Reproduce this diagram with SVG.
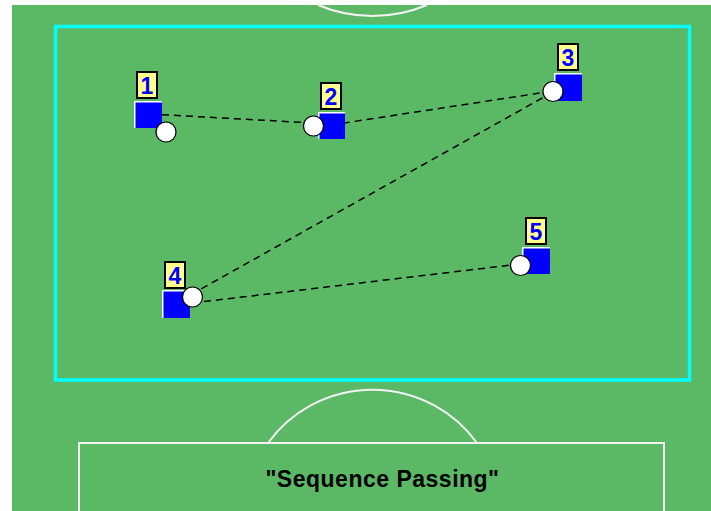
<svg xmlns="http://www.w3.org/2000/svg" width="711" height="511" viewBox="0 0 711 511">
<style>
.field{fill:#5bb966}
.line{fill:none;stroke:#f2f2f2;stroke-width:2}
.area{fill:none;stroke:#00ffff;stroke-width:3.5}
.pass{fill:none;stroke:#000;stroke-width:1.5;stroke-dasharray:7 5}
.sq{fill:#0000ff}
.hl{fill:none;stroke:#ffffff;stroke-width:1.5}
.lbl{fill:#ffff8c;stroke:#000;stroke-width:2}
.num{font-family:"Liberation Sans",Arial,sans-serif;font-weight:bold;font-size:23px;fill:#0000ff;text-anchor:middle}
.ball{fill:#fff;stroke:#000;stroke-width:1.2}
.title{font-family:"Liberation Sans",Arial,sans-serif;font-weight:bold;font-size:23px;fill:#000;text-anchor:middle;letter-spacing:0.5px}
</style>
<rect width="711" height="511" fill="#fff"/>
<rect class="field" x="12" y="5" width="699" height="506"/>
<g id="markings">
<path class="line" d="M318,5 A140.5,140.5 0 0 0 427,5"/>
<rect class="area" x="55.5" y="26.5" width="634" height="353.5"/>
<path class="line" d="M268,443 A129,129 0 0 1 477,443"/>
<path class="line" d="M79,511 V443 H664 V511"/>
<text class="title" x="382.5" y="487">"Sequence Passing"</text>
</g>
<g id="connectors">
<line class="pass" x1="150" y1="114" x2="313" y2="123"/>
<line class="pass" x1="331" y1="125" x2="553" y2="91"/>
<line class="pass" x1="553" y1="92" x2="192" y2="294"/>
<line class="pass" x1="192" y1="303" x2="520" y2="264"/>
</g>
<g id="player1" transform="translate(134,101)">
<rect class="lbl" x="3" y="-29" width="20" height="26"/>
<text class="num" x="13" y="-7">1</text>
<rect class="sq" x="0" y="0" width="28" height="27"/>
<polyline class="hl" points="0.75,27 0.75,0.75 28,0.75"/>
<circle class="ball" cx="32" cy="31" r="10"/>
</g>
<g id="player2" transform="translate(318,112)">
<rect class="lbl" x="3" y="-29" width="20" height="26"/>
<text class="num" x="13" y="-7">2</text>
<rect class="sq" x="0" y="0" width="27" height="27"/>
<polyline class="hl" points="0.75,27 0.75,0.75 27,0.75"/>
<circle class="ball" cx="-4.5" cy="14" r="10"/>
</g>
<g id="player3" transform="translate(554,73)">
<rect class="lbl" x="4" y="-29" width="20" height="26"/>
<text class="num" x="14" y="-7">3</text>
<rect class="sq" x="0" y="0" width="28" height="28"/>
<polyline class="hl" points="0.75,28 0.75,0.75 28,0.75"/>
<circle class="ball" cx="-1" cy="18.5" r="10"/>
</g>
<g id="player4" transform="translate(162,290)">
<rect class="lbl" x="3" y="-28" width="20" height="26"/>
<text class="num" x="13" y="-6">4</text>
<rect class="sq" x="0" y="0" width="28" height="28"/>
<polyline class="hl" points="0.75,28 0.75,0.75 28,0.75"/>
<circle class="ball" cx="30.5" cy="7" r="10"/>
</g>
<g id="player5" transform="translate(522,247)">
<rect class="lbl" x="4" y="-29" width="20" height="26"/>
<text class="num" x="14" y="-7">5</text>
<rect class="sq" x="0" y="0" width="28" height="27"/>
<polyline class="hl" points="0.75,27 0.75,0.75 28,0.75"/>
<circle class="ball" cx="-1.5" cy="18.5" r="10"/>
</g>
</svg>
